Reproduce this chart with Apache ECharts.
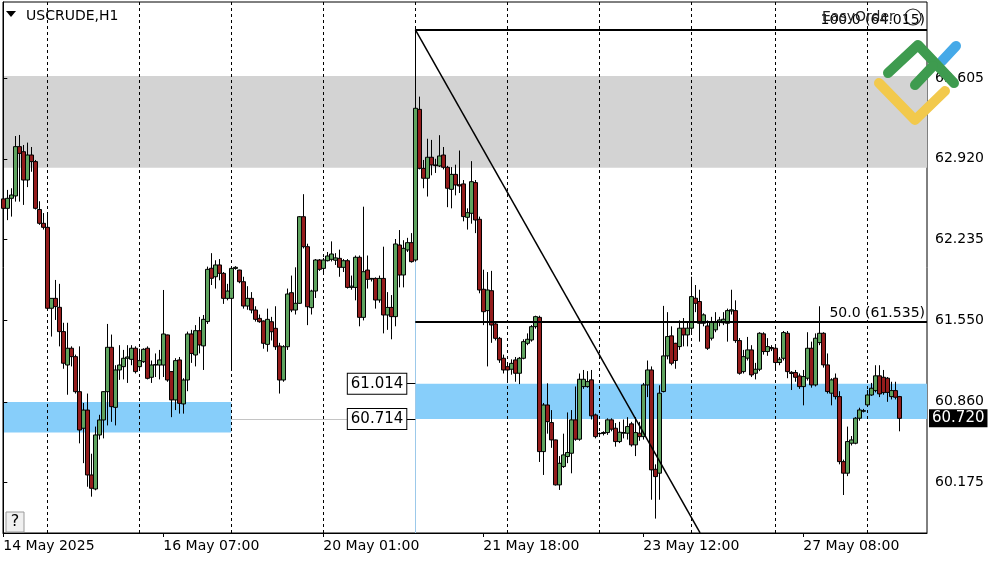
<!DOCTYPE html>
<html><head><meta charset="utf-8">
<script src="https://cdn.jsdelivr.net/npm/echarts@6/dist/echarts.min.js"></script>
<style>html,body{margin:0;padding:0;background:#fff}#c{width:1000px;height:562px}</style>
</head><body><div id="c"></div>
<script>
// ---- data (hourly bars, index = bar number) ----
const opens = [62.58,62.50,62.585,62.605,63.023,62.98,62.74,62.952,62.896,62.49,
62.373,62.339,61.653,61.737,61.661,61.455,61.172,61.314,61.243,60.946,
60.636,60.79,60.24,60.121,60.579,60.706,60.946,61.322,60.813,61.13,
61.158,61.229,61.22,61.314,61.158,61.20,61.314,61.068,61.172,61.172,
61.172,61.427,61.116,60.876,61.215,60.842,61.045,61.435,61.257,61.463,
61.334,61.54,61.992,61.92,62.02,61.949,61.737,61.737,61.991,61.977,
61.878,61.672,61.737,61.638,61.567,61.545,61.347,61.539,61.483,61.333,
61.045,61.327,61.785,61.638,61.695,62.429,62.175,61.658,61.799,62.062,
61.991,62.056,62.068,62.06,62.076,62.0,62.056,61.83,61.83,62.085,
61.576,61.977,61.90,61.906,61.723,61.906,61.596,61.66,61.582,62.189,
61.935,62.147,62.209,62.062,63.339,62.839,62.755,62.933,62.868,62.859,
62.952,62.848,62.661,62.788,62.70,62.707,62.424,62.458,62.718,62.407,
61.814,61.633,61.802,61.52,61.398,61.229,61.158,61.136,61.215,61.102,
61.229,61.356,61.384,61.497,61.576,60.438,60.833,60.684,60.537,60.156,
60.311,60.396,60.424,60.707,60.543,60.989,60.989,61.046,60.749,60.59,
60.592,60.599,60.707,60.636,60.523,60.594,60.594,60.673,60.495,60.594,
60.565,61.003,61.13,60.288,60.255,60.947,61.249,61.419,61.356,61.328,
61.484,61.427,61.484,61.738,61.71,61.526,61.503,61.399,61.47,61.532,
61.53,61.526,61.63,61.633,61.379,61.116,61.23,61.30,61.102,61.136,
61.436,61.286,61.32,61.314,61.193,61.229,61.441,61.11,61.108,61.079,
60.989,61.06,61.314,61.003,61.362,61.441,61.173,60.933,61.06,60.904,
60.353,60.255,60.509,60.509,60.721,60.78,60.834,60.918,60.955,61.08,
61.068,61.06,60.904,60.955,60.904];
const highs = [62.60,62.656,62.67,63.113,63.122,63.037,63.057,63.02,62.91,62.56,
62.46,62.464,61.737,61.893,61.86,61.53,61.53,61.33,61.26,61.33,
60.85,60.93,60.42,60.65,60.75,60.95,61.52,61.43,61.17,61.34,
61.30,61.34,61.34,61.33,61.31,61.314,61.33,61.21,61.27,61.30,
61.808,61.43,61.12,61.23,61.24,61.06,61.455,61.47,61.51,61.58,
61.596,62.006,62.12,62.06,62.07,61.96,61.86,62.005,62.01,61.98,
61.92,61.84,61.79,61.67,61.60,61.55,61.65,61.58,61.67,61.36,
61.34,61.82,61.93,62.00,62.435,62.62,62.20,61.81,62.07,62.07,
62.08,62.13,62.22,62.12,62.15,62.07,62.07,61.93,62.10,62.10,
62.514,62.10,61.91,61.915,61.93,62.175,61.79,61.765,62.24,62.316,
62.23,62.25,62.29,64.015,63.447,62.91,63.09,63.08,62.92,63.12,
63.02,62.86,62.85,62.87,62.99,62.74,62.50,62.90,62.74,62.43,
61.98,61.96,61.97,61.54,61.41,61.26,61.19,61.22,61.24,61.24,
61.39,61.44,61.51,61.59,61.59,60.85,61.017,60.79,60.54,60.40,
60.59,60.77,60.79,60.99,61.10,61.13,61.12,61.13,60.76,60.60,
60.61,60.72,60.72,60.68,60.69,60.71,60.73,60.69,60.73,60.69,
61.02,61.21,61.16,60.33,61.00,61.673,61.62,61.50,61.36,61.55,
61.57,61.54,61.92,61.85,61.81,61.61,61.55,61.58,61.62,61.58,
61.62,61.65,61.81,61.72,61.40,61.30,61.41,61.34,61.19,61.45,
61.45,61.40,61.34,61.33,61.24,61.46,61.46,61.12,61.13,61.10,
61.13,61.45,61.37,61.44,61.67,61.45,61.27,61.06,61.10,60.95,
60.37,60.65,60.57,60.73,60.81,60.80,60.96,61.02,61.17,61.17,
61.13,61.07,61.03,61.03,60.91];
const lows = [62.34,62.40,62.43,62.557,62.557,62.529,62.68,62.81,62.49,62.36,
62.32,61.64,61.413,61.554,61.33,61.14,60.92,61.16,60.93,60.508,
60.34,60.14,60.056,60.11,60.54,60.55,60.66,60.69,60.66,61.046,
61.05,61.02,61.17,61.10,61.14,61.19,61.05,61.02,61.07,61.05,
61.07,61.03,60.73,60.79,60.76,60.76,60.95,61.19,61.16,61.27,
61.13,61.52,61.85,61.82,61.89,61.69,61.72,61.13,61.98,61.865,
61.65,61.64,61.61,61.54,61.53,61.31,61.285,61.38,61.30,60.93,
61.03,61.30,61.62,61.60,61.69,62.16,61.51,61.60,61.74,61.97,
61.95,62.05,62.05,62.02,61.92,61.96,61.82,61.81,61.72,61.50,
61.55,61.82,61.88,61.65,61.70,61.44,61.47,61.39,61.50,61.83,
61.83,62.13,62.04,62.05,62.83,62.67,62.60,62.78,62.80,62.85,
62.83,62.51,62.50,62.61,62.63,62.39,62.32,62.37,62.29,61.78,
61.51,61.16,61.36,61.38,61.19,61.10,61.03,61.09,61.03,61.01,
61.22,61.34,61.37,61.48,60.35,60.24,60.59,60.47,60.15,60.113,
60.30,60.34,60.254,60.53,60.53,60.97,60.98,60.71,60.55,60.57,
60.575,60.58,60.61,60.48,60.51,60.55,60.54,60.48,60.40,60.53,
60.54,60.90,60.03,59.87,60.03,60.94,61.22,61.17,61.14,61.30,
61.33,61.33,61.45,61.62,61.37,61.50,61.30,61.38,61.45,61.50,
61.51,61.37,61.60,61.36,61.09,61.10,61.21,61.07,61.05,61.12,
61.26,61.25,61.29,61.14,61.17,61.21,61.06,60.96,61.03,60.97,
60.83,61.04,60.98,60.99,61.34,61.15,60.93,60.83,60.88,60.33,
60.07,60.23,60.49,60.50,60.70,60.77,60.82,60.91,60.94,60.90,
60.92,60.86,60.88,60.88,60.61];
const closes = [62.50,62.585,62.613,63.023,62.966,62.74,62.952,62.896,62.50,62.373,
62.339,61.653,61.737,61.667,61.455,61.187,61.314,61.243,60.946,60.621,
60.79,60.24,60.127,60.579,60.706,60.946,61.322,60.819,61.13,61.172,
61.229,61.24,61.314,61.116,61.209,61.305,61.059,61.172,61.175,61.215,
61.435,61.045,60.876,61.209,60.847,61.045,61.435,61.27,61.463,61.342,
61.559,61.983,61.907,62.02,61.949,61.737,61.799,61.991,62.0,61.878,
61.672,61.737,61.638,61.559,61.539,61.356,61.559,61.454,61.327,61.045,
61.327,61.774,61.638,61.695,62.429,62.175,61.666,61.799,62.062,61.983,
62.062,62.096,62.113,62.08,62.0,62.056,61.83,61.84,62.085,61.576,
61.963,61.898,61.906,61.723,61.906,61.596,61.66,61.582,62.198,61.935,
62.161,62.209,62.048,63.348,62.839,62.755,62.933,62.868,62.862,62.944,
62.848,62.670,62.788,62.698,62.69,62.430,62.463,62.726,62.401,61.808,
61.624,61.808,61.511,61.398,61.215,61.13,61.13,61.186,61.102,61.229,
61.37,61.39,61.497,61.582,60.438,60.833,60.692,60.537,60.156,60.339,
60.41,60.43,60.707,60.543,61.051,61.051,61.031,60.741,60.565,60.592,
60.60,60.707,60.628,60.523,60.602,60.60,60.65,60.495,60.599,60.565,
61.003,61.13,60.283,60.226,60.933,61.249,61.413,61.187,61.21,61.484,
61.427,61.484,61.752,61.695,61.526,61.597,61.314,61.54,61.54,61.554,
61.56,61.633,61.64,61.379,61.102,61.243,61.30,61.088,61.136,61.441,
61.286,61.328,61.31,61.193,61.221,61.447,61.116,61.10,61.068,60.989,
61.074,61.314,61.003,61.399,61.441,61.173,60.947,61.046,60.904,60.353,
60.255,60.523,60.537,60.721,60.791,60.785,60.918,60.975,61.08,60.927,
60.938,60.94,60.955,60.899,60.72];

const xTickIdx = [0, 40, 80, 120, 160, 200];
const xTickLabels = ['14 May 2025', '16 May 07:00', '20 May 01:00', '21 May 18:00', '23 May 12:00', '27 May 08:00'];
const yTickValues = [60.175, 60.860, 61.550, 62.235, 62.920, 63.605];
const daySeparators = [11, 34, 57, 80, 103, 126, 149, 172, 193, 216];
const grayZone = [63.622, 62.845];
const blueZoneLeft = [0, 57, 60.858, 60.599];
const blueZoneRight = [103, 61.014, 60.714];
const fibStart = 103, fib100 = 64.015, fib50 = 61.535, fibEnd = [174.2, 59.75];
const currentPrice = 60.720;

const X_MIN = -0.075, X_MAX = 230.925, Y_MIN = 59.748, Y_MAX = 64.249;
const FONT = 'DejaVu Sans';

const candles = opens.map((o, i) => [i, o, closes[i], lows[i], highs[i]]);

const chart = echarts.init(document.getElementById('c'), null, {renderer: 'canvas'});
chart.setOption({
  animation: false,
  backgroundColor: '#fff',
  grid: {left: 3, right: 73, top: 2, bottom: 29, show: true, borderColor: '#000', borderWidth: 1, backgroundColor: '#fff'},
  xAxis: {
    type: 'value', min: X_MIN, max: X_MAX,
    axisLine: {show: true, onZero: false, lineStyle: {color: '#000', width: 1}},
    axisTick: {show: true, length: 4, customValues: xTickIdx, lineStyle: {color: '#000'}},
    axisLabel: {show: true, customValues: xTickIdx, align: 'left', margin: 6, color: '#000', fontSize: 14, fontFamily: FONT,
      formatter: v => { const k = xTickIdx.indexOf(Math.round(v)); return k >= 0 ? xTickLabels[k] : ''; }},
    splitLine: {show: false}
  },
  yAxis: {
    type: 'value', position: 'right', min: Y_MIN, max: Y_MAX,
    axisLine: {show: true, lineStyle: {color: '#000', width: 1}},
    axisTick: {show: true, length: 4, customValues: yTickValues, lineStyle: {color: '#000'}},
    axisLabel: {show: true, customValues: yTickValues, margin: 8, color: '#000', fontSize: 14, fontFamily: FONT,
      formatter: v => v.toFixed(3)},
    splitLine: {show: false}
  },
  series: [
    {
      type: 'line', data: [], silent: true, z: 0,
      markArea: {
        silent: true, z: 0, label: {show: false},
        data: [
          [{yAxis: grayZone[0], itemStyle: {color: '#d3d3d3'}}, {yAxis: grayZone[1]}],
          [{xAxis: blueZoneLeft[0], yAxis: blueZoneLeft[2], itemStyle: {color: '#87cefa'}}, {xAxis: blueZoneLeft[1], yAxis: blueZoneLeft[3]}],
          [{xAxis: blueZoneRight[0], yAxis: blueZoneRight[1], itemStyle: {color: '#87cefa'}}, {xAxis: X_MAX - 0.001, yAxis: blueZoneRight[2]}]
        ]
      },
      markLine: {
        silent: true, z: 1, symbol: ['none', 'none'], label: {show: false},
        lineStyle: {color: '#000', type: [3, 3], width: 1},
        data: [
          ...daySeparators.map(i => ({xAxis: i})),
          [{coord: [fibStart, lows[fibStart]], lineStyle: {color: '#9cc9ea', type: 'solid', width: 1}}, {coord: [fibStart, Y_MIN]}],
          [{coord: [blueZoneLeft[1], blueZoneRight[2]], lineStyle: {color: '#c4c4c4', type: 'solid', width: 1}}, {coord: [fibStart, blueZoneRight[2]]}]
        ]
      }
    },
    {
      type: 'candlestick', data: candles, z: 2, barWidth: 4,
      itemStyle: {color: '#5fa35f', color0: '#941c1c', borderColor: '#000', borderColor0: '#000', borderColorDoji: '#000', borderWidth: 1}
    },
    {
      type: 'line', data: [], silent: true, z: 3,
      markLine: {
        silent: true, z: 3, symbol: ['none', 'none'], label: {show: false},
        lineStyle: {color: '#000', type: 'solid', width: 2},
        data: [
          [{coord: [fibStart, fib100], label: {show: true, position: 'insideEndTop', distance: 2, formatter: '100.0 (64.015)', color: '#000', fontSize: 14, fontFamily: FONT}}, {coord: [X_MAX - 0.001, fib100]}],
          [{coord: [fibStart, fib50], label: {show: true, position: 'insideEndTop', distance: 2, formatter: '50.0 (61.535)', color: '#000', fontSize: 14, fontFamily: FONT}}, {coord: [X_MAX - 0.001, fib50]}],
          [{coord: [fibStart, fib100], lineStyle: {width: 1.5}}, {coord: fibEnd}],
          [{coord: [fibStart - 2.3, blueZoneRight[1]], lineStyle: {width: 1}}, {coord: [fibStart, blueZoneRight[1]]}],
          [{coord: [fibStart - 2.3, blueZoneRight[2]], lineStyle: {width: 1}}, {coord: [fibStart, blueZoneRight[2]]}]
        ]
      },
      markPoint: {
        silent: true, z: 4, symbol: 'circle', symbolSize: 0,
        data: [
          {coord: [fibStart, blueZoneRight[1]], label: {show: true, position: 'left', distance: 9, formatter: '61.014', color: '#000', fontSize: 15, fontFamily: FONT, backgroundColor: '#fff', borderColor: '#000', borderWidth: 1, padding: [3, 3, 2, 3]}},
          {coord: [fibStart, blueZoneRight[2]], label: {show: true, position: 'left', distance: 9, formatter: '60.714', color: '#000', fontSize: 15, fontFamily: FONT, backgroundColor: '#fff', borderColor: '#000', borderWidth: 1, padding: [3, 3, 2, 3]}},
          {coord: [X_MAX - 0.001, currentPrice], label: {show: true, position: 'right', distance: 2, formatter: currentPrice.toFixed(3), color: '#fff', fontSize: 15, fontFamily: FONT, backgroundColor: '#000', padding: [2, 3, 1, 3]}}
        ]
      }
    }
  ],
  graphic: [
    {type: 'polygon', shape: {points: [[6, 11], [16, 11], [11, 17]]}, style: {fill: '#000'}, z: 10},
    {type: 'text', x: 26, y: 16, style: {text: 'USCRUDE,H1', fontSize: 14, fontFamily: FONT, fill: '#000', verticalAlign: 'middle'}, z: 10},
    {type: 'text', x: 822, y: 17, style: {text: 'EasyOrder', fontSize: 14, fontFamily: FONT, fill: '#222', verticalAlign: 'middle'}, z: 10},
    {type: 'circle', shape: {cx: 913, cy: 17, r: 8}, style: {fill: 'none', stroke: '#222', lineWidth: 1.2}, z: 10},
    {type: 'rect', shape: {x: 6, y: 512, width: 18, height: 20}, style: {fill: '#f0f0f0', stroke: '#9a9a9a', lineWidth: 1}, z: 10},
    {type: 'text', x: 15, y: 522, style: {text: '?', fontSize: 16, fontFamily: FONT, fill: '#000', align: 'center', verticalAlign: 'middle'}, z: 11},
    {type: 'polyline', shape: {points: [[879, 83], [915, 120], [945, 91]]}, style: {stroke: '#f2c94c', lineWidth: 10, fill: null, lineCap: 'round', lineJoin: 'round'}, z: 20},
    {type: 'polyline', shape: {points: [[888, 73], [918, 45], [954, 83]]}, style: {stroke: '#3e9b4f', lineWidth: 10, fill: null, lineCap: 'round', lineJoin: 'round'}, z: 21},
    {type: 'polyline', shape: {points: [[915, 85], [933, 66]]}, style: {stroke: '#3e9b4f', lineWidth: 10, fill: null, lineCap: 'round'}, z: 21},
    {type: 'polyline', shape: {points: [[942, 61], [956, 46]]}, style: {stroke: '#45a9e8', lineWidth: 10, fill: null, lineCap: 'round'}, z: 20}
  ]
});
</script>
</body></html>
